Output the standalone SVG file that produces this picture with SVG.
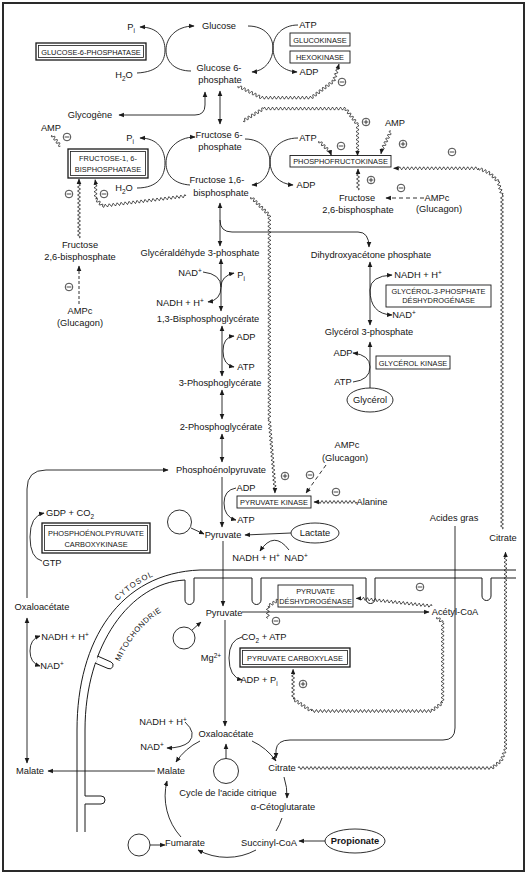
<svg xmlns="http://www.w3.org/2000/svg" width="527" height="879" viewBox="0 0 527 879">
<defs>
<style>
.t{font-family:"Liberation Sans",Arial,Helvetica,sans-serif;font-size:9.3px;fill:#141414;text-anchor:middle}
.bt{font-family:"Liberation Sans",Arial,Helvetica,sans-serif;font-size:7.4px;fill:#141414;text-anchor:middle}
.s{font-size:6.5px}
.c{fill:none;stroke:#1a1a1a;stroke-width:0.9}
.w{fill:none;stroke:#1a1a1a;stroke-width:0.8}
.ar{marker-end:url(#a)}
.as{marker-start:url(#a)}
.d{stroke-dasharray:4 3}
.bx{fill:#fff;stroke:#1a1a1a;stroke-width:0.9}
.bo{fill:#fff;stroke:#1a1a1a;stroke-width:1.3}
.bi{fill:none;stroke:#1a1a1a;stroke-width:0.8}
.mem{fill:none;stroke:#1a1a1a;stroke-width:1}
.el{fill:#fff;stroke:#1a1a1a;stroke-width:0.9}
</style>
<marker id="a" viewBox="0 0 10 10" refX="9" refY="5" markerWidth="5.5" markerHeight="5.5" markerUnits="userSpaceOnUse" orient="auto-start-reverse"><path d="M0,0.8L10,5L0,9.2z" fill="#1a1a1a"/></marker>
<g id="mi"><circle r="3.8" fill="#fff" stroke="#1a1a1a" stroke-width="0.8"/><path d="M-2.4,0H2.4" stroke="#1a1a1a" stroke-width="0.8"/></g>
<g id="pl"><circle r="3.8" fill="#fff" stroke="#1a1a1a" stroke-width="0.8"/><path d="M-2.4,0H2.4M0,-2.4V2.4" stroke="#1a1a1a" stroke-width="0.8"/></g>
<path id="pc" d="M74,730C74,638 118,569 200,566"/>
<path id="pm" d="M104,740C104,662 142,600 212,596"/>
</defs>
<rect x="0" y="0" width="527" height="879" fill="#fff"/>
<rect x="3" y="3" width="521" height="868" fill="none" stroke="#2a2a2a" stroke-width="2"/>

<g id="membranes">
<path class="mem" d="M516,570H200C120,573 77,640 77,730V832"/>
<path class="mem" d="M516,578H491V596A4.5,4.5 0 0 1 482,596V578H375V599A4.5,4.5 0 0 1 366,599V578H261V600A4.5,4.5 0 0 1 252,600V578H194V600A4.5,4.5 0 0 1 185,600V580C130,583 85,645 85,730V796H101A4,4 0 0 1 101,804H85V832"/>
<path d="M97,657.5L95.3,662.5" stroke="#fff" stroke-width="1.8"/>
<path class="mem" d="M97.5,656L111,662A3.5,3.5 0 0 1 108,668.5L95,663"/>
<text class="t" style="font-size:7.8px;letter-spacing:1.1px"><textPath href="#pc" startOffset="70%">CYTOSOL</textPath></text>
<text class="t" style="font-size:7.6px;letter-spacing:0.6px"><textPath href="#pm" startOffset="57%">MITOCHONDRIE</textPath></text>
</g>

<g id="connectors">
<path class="c as" d="M140,27C158,27 165,38 165,50C165,62 158,72 137,73"/>
<path class="c as" d="M194,26C176,26 166,38 166,50C166,62 175,71 191,71"/>
<path class="c ar" d="M248,26C265,26 273,37 273,48C273,60 265,71 252,72"/>
<path class="c ar" d="M298,25C282,25 273,36 273,48C273,60 281,71 297,72"/>
<path class="c as ar" d="M220,91V124"/>
<path class="c as ar" d="M205,92V105Q205,115 195,115H119"/>
<path class="c as" d="M140,138C158,138 165,150 165,163C165,176 158,188 137,188"/>
<path class="c as" d="M195,137C177,137 166,150 166,163C166,176 175,184 190,185"/>
<path class="c ar" d="M245,139C262,139 270,151 270,162C270,174 263,184 252,185"/>
<path class="c ar" d="M298,138C280,138 270,150 270,162C270,174 279,184 293,185"/>
<path class="c as ar" d="M220,203V246"/>
<path class="c ar" d="M220,220Q220,232 232,232H358Q369,232 369,247"/>
<path class="c d ar" d="M424,198H386"/>
<path class="c ar" d="M79,304V266" stroke-dasharray="3 2"/>
<path class="c as ar" d="M221,259V311"/>
<path class="c ar" d="M203,272Q221,274 221,287Q221,300 208,302"/>
<path class="c ar" d="M221,287Q221,276 234,273"/>
<path class="c as ar" d="M222,326V376"/>
<path class="c as ar" d="M234,336Q223,337 223,351Q223,365 234,367"/>
<path class="c as ar" d="M222,390V419"/>
<path class="c as ar" d="M222,434V462"/>
<path class="c as ar" d="M370,262V325"/>
<path class="c ar" d="M370,290Q370,276 392,275"/>
<path class="c ar" d="M370,290Q370,314 392,315"/>
<path class="c ar" d="M370,388V342"/>
<path class="c as" d="M353,353Q370,355 370,367Q370,380 353,382"/>
<path class="c ar" d="M27,598V489Q27,470 46,470H168"/>
<path class="c as" d="M44,513Q30,516 30,537Q30,558 42,561"/>
<path class="c ar" d="M222,477V527"/>
<path class="c ar" d="M236,488Q224,490 224,503Q224,517 236,520"/>
<path class="c d ar" d="M326,465L306,493"/>
<path class="c ar" d="M191,528L204,534"/>
<path class="c ar" d="M291,533L245,535"/>
<path class="c as" d="M260,551Q274,530 289,550"/>
<path class="c ar" d="M223,541V606"/>
<path class="c ar" d="M455,526V728Q455,740 443,740H290Q277,740 276,750V758"/>
<path class="c ar" d="M242,612H429"/>
<path class="c ar" d="M225,620V726"/>
<path class="c ar" d="M191,631L201,622"/>
<path class="c ar" d="M242,637Q229,640 229,658Q229,677 242,680"/>
<path class="c ar" d="M226,759V744"/>
<path class="c ar" d="M155,771H48"/>
<path class="c as ar" d="M27,618V763"/>
<path class="c as ar" d="M40,636Q30,639 30,651Q30,663 40,666"/>
<path class="c ar" d="M185,722Q197,733 189,742Q182,748 167,748"/>
<path class="c ar" d="M252,741A61,61 0 0 1 276,761"/>
<path class="c ar" d="M284,777A61,61 0 0 1 287,798"/>
<path class="c" d="M282,818A61,61 0 0 1 276,831"/>
<path class="c ar" d="M256,850A61,61 0 0 1 198,850"/>
<path class="c ar" d="M181,837A61,61 0 0 1 167,781"/>
<path class="c ar" d="M200,741A61,61 0 0 0 176,762"/>
<path class="c ar" d="M150,845H165"/>
<path class="c ar" d="M325,841H299"/>

<path class="w ar" d="M238,86q-0.45,3.1 1.8,0.9t1.8,0.9 1.8,0.9 1.8,0.9 1.8,0.9 1.8,0.9 1.8,0.9 1.8,0.9 1.8,0.9 1.8,0.9 1.8,0.9 1.8,0.9 1.8,0.9q1,-3 2,0t2,0 2,0 2,0 2,0 2,0 2,0 2,0 2,0 2,0 2,0 2,0 2,0 2,0 2,0 2,0 2,0 2,0 2,0 2,0 2,0 2,0 2,0 2,0 2,0q2.6,1.8 1.6,-1.2t1.6,-1.2 1.6,-1.2 1.6,-1.2 1.6,-1.2 1.6,-1.2 1.6,-1.2 1.6,-1.2 1.6,-1.2 1.6,-1.2 1.6,-1.2 1.6,-1.2 1.6,-1.2 1.6,-1.2q3.15,-0.05 0.6,-1.9t0.6,-1.9 0.6,-1.9 0.6,-1.9 0.6,-1.9 0.6,-1.9 0.6,-1.9l1,-3.5"/>
<path class="w ar" d="M243,121q2.4,2.06 1.71,-1.03t1.71,-1.03 1.71,-1.03 1.71,-1.03 1.71,-1.03 1.71,-1.03 1.71,-1.03 1.71,-1.03 1.71,-1.03 1.71,-1.03 1.71,-1.03 1.71,-1.03q1,-3 2,0t2,0 2,0 2,0 2,0 2,0 2,0 2,0 2,0 2,0 2,0 2,0 2,0 2,0 2,0 2,0 2,0 2,0 2,0 2,0 2,0 2,0 2,0 2,0 2,0 2,0 2,0 2,0 2,0 2,0 2,0 2,0 2,0 2,0 2,0 2,0 2,0 2,0 2,0 2,0 2,0q-1.8,2.6 1.2,1.6t1.2,1.6 1.2,1.6 1.2,1.6 1.2,1.6 1.2,1.6 1.2,1.6 1.2,1.6 1.2,1.6 1.2,1.6q3,1 0,2t0,2 0,2 0,2 0,2 0,2 0,2 0,2 0,2 0,2 0,2 0,2 0,2 0,2l0,3"/>
<path class="w ar" d="M319,141q-1.41,2.83 1.41,1.41t1.41,1.41 1.41,1.41 1.41,1.41 1.41,1.41 1.41,1.41 1.41,1.41 1.41,1.41l1,3"/>
<path class="w ar" d="M391,131q-3.13,-0.4 -0.86,1.8t-0.86,1.8 -0.86,1.8 -0.86,1.8 -0.86,1.8 -0.86,1.8 -0.86,1.8 -0.86,1.8 -0.86,1.8 -0.86,1.8 -0.86,1.8l-0.5,3"/>
<path class="w ar" d="M358,190q3,-1 0,-2t0,-2 0,-2 0,-2 0,-2 0,-2 0,-2 0,-2 0,-2l0,-3"/>
<path class="w ar" d="M502,529q3,-1 0,-2t0,-2 0,-2 0,-2 0,-2 0,-2 0,-2 0,-2 0,-2 0,-2 0,-2 0,-2 0,-2 0,-2 0,-2 0,-2 0,-2 0,-2 0,-2 0,-2 0,-2 0,-2 0,-2 0,-2 0,-2 0,-2 0,-2 0,-2 0,-2 0,-2 0,-2 0,-2 0,-2 0,-2 0,-2 0,-2 0,-2 0,-2 0,-2 0,-2 0,-2 0,-2 0,-2 0,-2 0,-2 0,-2 0,-2 0,-2 0,-2 0,-2 0,-2 0,-2 0,-2 0,-2 0,-2 0,-2 0,-2 0,-2 0,-2 0,-2 0,-2 0,-2 0,-2 0,-2 0,-2 0,-2 0,-2 0,-2 0,-2 0,-2 0,-2 0,-2 0,-2 0,-2 0,-2 0,-2 0,-2 0,-2 0,-2 0,-2 0,-2 0,-2 0,-2 0,-2 0,-2 0,-2 0,-2 0,-2 0,-2 0,-2 0,-2 0,-2 0,-2 0,-2 0,-2 0,-2 0,-2 0,-2 0,-2 0,-2 0,-2 0,-2 0,-2 0,-2 0,-2 0,-2 0,-2 0,-2 0,-2 0,-2 0,-2 0,-2 0,-2 0,-2 0,-2 0,-2 0,-2 0,-2 0,-2 0,-2 0,-2 0,-2 0,-2 0,-2 0,-2 0,-2 0,-2 0,-2 0,-2 0,-2 0,-2 0,-2 0,-2 0,-2 0,-2 0,-2 0,-2 0,-2 0,-2 0,-2 0,-2 0,-2 0,-2 0,-2 0,-2 0,-2 0,-2 0,-2 0,-2 0,-2 0,-2 0,-2 0,-2 0,-2 0,-2 0,-2 0,-2 0,-2 0,-2 0,-2 0,-2 0,-2 0,-2 0,-2 0,-2 0,-2 0,-2q2.6,-1.79 -0.55,-1.92t-0.55,-1.92 -0.55,-1.92 -0.55,-1.92 -0.55,-1.92 -0.55,-1.92 -0.55,-1.92q1.41,-2.83 -1.41,-1.41t-1.41,-1.41 -1.41,-1.41 -1.41,-1.41 -1.41,-1.41 -1.41,-1.41q0.28,-3.15 -1.83,-0.8t-1.83,-0.8 -1.83,-0.8 -1.83,-0.8 -1.83,-0.8 -1.83,-0.8q-1,3 -2,0t-2,0 -2,0 -2,0 -2,0 -2,0 -2,0 -2,0 -2,0 -2,0 -2,0 -2,0 -2,0 -2,0 -2,0 -2,0 -2,0 -2,0 -2,0 -2,0 -2,0 -2,0 -2,0 -2,0 -2,0 -2,0 -2,0 -2,0 -2,0 -2,0 -2,0 -2,0 -2,0 -2,0 -2,0 -2,0 -2,0 -2,0 -2,0 -2,0l-5,0"/>
<path class="w ar" d="M298,768q1,-3 2,0t2,0 2,0 2,0 2,0 2,0 2,0 2,0 2,0 2,0 2,0 2,0 2,0 2,0 2,0 2,0 2,0 2,0 2,0 2,0 2,0 2,0 2,0 2,0 2,0 2,0 2,0 2,0 2,0 2,0 2,0 2,0 2,0 2,0 2,0 2,0 2,0 2,0 2,0 2,0 2,0 2,0 2,0 2,0 2,0 2,0 2,0 2,0 2,0 2,0 2,0 2,0 2,0 2,0 2,0 2,0 2,0 2,0 2,0 2,0 2,0 2,0 2,0 2,0 2,0 2,0 2,0 2,0 2,0 2,0 2,0 2,0 2,0 2,0 2,0 2,0 2,0 2,0 2,0 2,0 2,0 2,0 2,0 2,0 2,0 2,0 2,0 2,0 2,0 2,0 2,0 2,0 2,0 2,0 2,0 2,0 2,0q2.65,1.72 1.56,-1.25t1.56,-1.25 1.56,-1.25 1.56,-1.25 1.56,-1.25 1.56,-1.25q3.17,0.09 0.69,-1.88t0.69,-1.88 0.69,-1.88 0.69,-1.88 0.69,-1.88 0.69,-1.88q3,-1 0,-2t0,-2 0,-2 0,-2 0,-2 0,-2 0,-2 0,-2 0,-2 0,-2 0,-2 0,-2 0,-2 0,-2 0,-2 0,-2 0,-2 0,-2 0,-2 0,-2 0,-2 0,-2 0,-2 0,-2 0,-2 0,-2 0,-2 0,-2 0,-2 0,-2 0,-2 0,-2 0,-2 0,-2 0,-2 0,-2 0,-2 0,-2 0,-2 0,-2 0,-2 0,-2 0,-2 0,-2 0,-2 0,-2 0,-2 0,-2 0,-2 0,-2 0,-2 0,-2 0,-2 0,-2 0,-2 0,-2 0,-2 0,-2 0,-2 0,-2 0,-2 0,-2 0,-2 0,-2 0,-2 0,-2 0,-2 0,-2 0,-2 0,-2 0,-2 0,-2 0,-2 0,-2 0,-2 0,-2 0,-2 0,-2 0,-2 0,-2 0,-2 0,-2 0,-2 0,-2 0,-2 0,-2 0,-2 0,-2 0,-2 0,-2 0,-2 0,-2 0,-2 0,-2 0,-2 0,-2 0,-2l0,-3"/>
<path class="w ar" d="M186,196q-1.34,-2.86 -1.99,0.24t-1.99,0.24 -1.99,0.24 -1.99,0.24 -1.99,0.24 -1.99,0.24 -1.99,0.24 -1.99,0.24 -1.99,0.24 -1.99,0.24 -1.99,0.24 -1.99,0.24 -1.99,0.24 -1.99,0.24 -1.99,0.24 -1.99,0.24 -1.99,0.24 -1.99,0.24 -1.99,0.24 -1.99,0.24 -1.99,0.24 -1.99,0.24 -1.99,0.24 -1.99,0.24 -1.99,0.24 -1.99,0.24 -1.99,0.24 -1.99,0.24 -1.99,0.24 -1.99,0.24 -1.99,0.24 -1.99,0.24 -1.99,0.24 -1.99,0.24 -1.99,0.24 -1.99,0.24 -1.99,0.24 -1.99,0.24 -1.99,0.24 -1.99,0.24 -1.99,0.24 -1.99,0.24q1.52,-2.78 -1.36,-1.47t-1.36,-1.47 -1.36,-1.47 -1.36,-1.47 -1.36,-1.47q3,-1 0,-2t0,-2 0,-2 0,-2 0,-2 0,-2 0,-2 0,-2l-0.5,-3"/>
<path class="w ar" d="M79,238q3,-1 0,-2t0,-2 0,-2 0,-2 0,-2 0,-2 0,-2 0,-2 0,-2 0,-2 0,-2 0,-2 0,-2 0,-2 0,-2 0,-2 0,-2 0,-2 0,-2 0,-2 0,-2 0,-2 0,-2 0,-2 0,-2 0,-2 0,-2 0,-2l0,-3"/>
<path class="w" d="M52,135q-1.8,2.6 1.2,1.6t1.2,1.6 1.2,1.6 1.2,1.6 1.2,1.6 1.2,1.6 1.2,1.6"/>
<path class="w ar" d="M251,197q-1.41,2.83 1.41,1.41t1.41,1.41 1.41,1.41 1.41,1.41 1.41,1.41 1.41,1.41 1.41,1.41 1.41,1.41 1.41,1.41 1.41,1.41 1.41,1.41 1.41,1.41 1.41,1.41q3,1 0,2t0,2 0,2 0,2 0,2 0,2 0,2 0,2 0,2 0,2 0,2 0,2 0,2 0,2 0,2 0,2 0,2 0,2 0,2 0,2 0,2 0,2 0,2 0,2 0,2 0,2 0,2 0,2 0,2 0,2 0,2 0,2 0,2 0,2 0,2 0,2 0,2 0,2 0,2 0,2 0,2 0,2 0,2 0,2 0,2 0,2 0,2 0,2 0,2 0,2 0,2 0,2 0,2 0,2 0,2 0,2 0,2 0,2 0,2 0,2 0,2 0,2 0,2 0,2 0,2 0,2 0,2 0,2 0,2 0,2 0,2 0,2 0,2 0,2 0,2 0,2 0,2 0,2 0,2 0,2 0,2 0,2 0,2 0,2 0,2 0,2 0,2 0,2 0,2 0,2 0,2 0,2 0,2 0,2 0,2 0,2 0,2 0,2 0,2 0,2 0,2 0,2q-2.91,1.24 0.16,1.99t0.16,1.99 0.16,1.99 0.16,1.99 0.16,1.99 0.16,1.99 0.16,1.99 0.16,1.99 0.16,1.99 0.16,1.99 0.16,1.99 0.16,1.99 0.16,1.99 0.16,1.99 0.16,1.99 0.16,1.99 0.16,1.99 0.16,1.99 0.16,1.99 0.16,1.99 0.16,1.99 0.16,1.99 0.16,1.99 0.16,1.99 0.16,1.99 0.16,1.99 0.16,1.99 0.16,1.99 0.16,1.99 0.16,1.99 0.16,1.99 0.16,1.99 0.16,1.99 0.16,1.99 0.16,1.99l0,4"/>
<path class="w ar" d="M357,502q-1,3 -2,0t-2,0 -2,0 -2,0 -2,0 -2,0 -2,0 -2,0 -2,0 -2,0 -2,0 -2,0 -2,0 -2,0 -2,0 -2,0 -2,0 -2,0 -2,0 -2,0l-3,0"/>
<path class="w ar" d="M432,606q-0.67,-3.09 -1.99,-0.21t-1.99,-0.21 -1.99,-0.21 -1.99,-0.21 -1.99,-0.21 -1.99,-0.21 -1.99,-0.21 -1.99,-0.21 -1.99,-0.21 -1.99,-0.21 -1.99,-0.21 -1.99,-0.21 -1.99,-0.21 -1.99,-0.21 -1.99,-0.21 -1.99,-0.21 -1.99,-0.21 -1.99,-0.21 -1.99,-0.21 -1.99,-0.21 -1.99,-0.21 -1.99,-0.21 -1.99,-0.21 -1.99,-0.21 -1.99,-0.21 -1.99,-0.21 -1.99,-0.21 -1.99,-0.21 -1.99,-0.21 -1.99,-0.21 -1.99,-0.21 -1.99,-0.21 -1.99,-0.21 -1.99,-0.21 -1.99,-0.21 -1.99,-0.21l-4,0"/>
<path class="w ar" d="M437,617q-1.41,2.83 1.41,1.41t1.41,1.41 1.41,1.41 1.41,1.41q3,1 0,2t0,2 0,2 0,2 0,2 0,2 0,2 0,2 0,2 0,2 0,2 0,2 0,2 0,2 0,2 0,2 0,2 0,2 0,2 0,2 0,2 0,2 0,2 0,2 0,2 0,2 0,2 0,2 0,2 0,2 0,2 0,2 0,2 0,2 0,2 0,2 0,2 0,2 0,2 0,2q-2.6,-1.8 -1.6,1.2t-1.6,1.2 -1.6,1.2 -1.6,1.2 -1.6,1.2 -1.6,1.2 -1.6,1.2q-1,3 -2,0t-2,0 -2,0 -2,0 -2,0 -2,0 -2,0 -2,0 -2,0 -2,0 -2,0 -2,0 -2,0 -2,0 -2,0 -2,0 -2,0 -2,0 -2,0 -2,0 -2,0 -2,0 -2,0 -2,0 -2,0 -2,0 -2,0 -2,0 -2,0 -2,0 -2,0 -2,0 -2,0 -2,0 -2,0 -2,0 -2,0 -2,0 -2,0 -2,0 -2,0 -2,0 -2,0 -2,0 -2,0 -2,0 -2,0 -2,0 -2,0 -2,0 -2,0 -2,0 -2,0 -2,0 -2,0 -2,0 -2,0 -2,0 -2,0 -2,0q0.82,-3.05 -1.67,-1.1t-1.67,-1.1 -1.67,-1.1 -1.67,-1.1 -1.67,-1.1 -1.67,-1.1 -1.67,-1.1 -1.67,-1.1 -1.67,-1.1 -1.67,-1.1 -1.67,-1.1q3,-1 0,-2t0,-2 0,-2 0,-2 0,-2 0,-2 0,-2 0,-2 0,-2 0,-2 0,-2 0,-2 0,-2l0,-3.5"/>
<path class="w" d="M278,600q-2.46,-1.98 -1.69,1.07t-1.69,1.07 -1.69,1.07 -1.69,1.07 -1.69,1.07 -1.69,1.07q3,1 0,2t0,2 0,2 0,2 0,2 0,2"/>
</g>

<g id="nodes">
<g id="n-pi1"><text class="t" x="131" y="30">P<tspan class="s" dy="2.5">i</tspan></text></g>
<g id="n-glucose"><text class="t" x="219" y="29">Glucose</text></g>
<g id="n-g6pase"><rect class="bo" x="36" y="43" width="110" height="17"/><rect class="bi" x="38.5" y="45.5" width="105" height="12"/><text class="bt" x="91" y="54.6">GLUCOSE-6-PHOSPHATASE</text></g>
<g id="n-h2o1"><text class="t" x="124" y="78">H<tspan class="s" dy="2.5">2</tspan><tspan dy="-2.5">O</tspan></text></g>
<g id="n-g6p"><text class="t" x="219" y="71">Glucose 6-</text><text class="t" x="220" y="83">phosphate</text></g>
<g id="n-atp1"><text class="t" x="308" y="28">ATP</text></g>
<g id="n-glucokinase"><rect class="bx" x="290" y="33" width="60" height="13"/><text class="bt" x="320" y="42.5">GLUCOKINASE</text></g>
<g id="n-hexokinase"><rect class="bx" x="290" y="51" width="60" height="12"/><text class="bt" x="320" y="60">HEXOKINASE</text></g>
<g id="n-adp1"><text class="t" x="309" y="75">ADP</text></g>
<g id="n-glycogene"><text class="t" x="90" y="118">Glycogène</text></g>
<g id="n-amp1"><text class="t" x="51" y="131">AMP</text></g>
<g id="n-pi2"><text class="t" x="130" y="141">P<tspan class="s" dy="2.5">i</tspan></text></g>
<g id="n-f6p"><text class="t" x="219" y="138">Fructose 6-</text><text class="t" x="220" y="150">phosphate</text></g>
<g id="n-atp2"><text class="t" x="308" y="141">ATP</text></g>
<g id="n-amp2"><text class="t" x="395" y="126">AMP</text></g>
<g id="n-fbpase"><rect class="bo" x="68" y="149" width="80" height="29"/><rect class="bi" x="70.5" y="151.5" width="75" height="24"/><text class="bt" x="108" y="161">FRUCTOSE-1, 6-</text><text class="bt" x="108" y="172">BISPHOSPHATASE</text></g>
<g id="n-pfk"><rect class="bx" x="290" y="155.5" width="101" height="11.5"/><text class="bt" x="340.5" y="164">PHOSPHOFRUCTOKINASE</text></g>
<g id="n-h2o2"><text class="t" x="124" y="191">H<tspan class="s" dy="2.5">2</tspan><tspan dy="-2.5">O</tspan></text></g>
<g id="n-f16bp"><text class="t" x="217" y="183">Fructose 1,6-</text><text class="t" x="221" y="196">bisphosphate</text></g>
<g id="n-adp2"><text class="t" x="306" y="188">ADP</text></g>
<g id="n-f26bp-r"><text class="t" x="357" y="201">Fructose</text><text class="t" x="358" y="213">2,6-bisphosphate</text></g>
<g id="n-ampc-r"><text class="t" x="437" y="201">AMPc</text><text class="t" x="439" y="211.5">(Glucagon)</text></g>
<g id="n-f26bp-l"><text class="t" x="80" y="248">Fructose</text><text class="t" x="80" y="260">2,6-bisphosphate</text></g>
<g id="n-ampc-l"><text class="t" x="80" y="314">AMPc</text><text class="t" x="80" y="326">(Glucagon)</text></g>
<g id="n-g3p"><text class="t" x="200" y="256">Glycéraldéhyde 3-phosphate</text></g>
<g id="n-dhap"><text class="t" x="371" y="258">Dihydroxyacétone phosphate</text></g>
<g id="n-nad1"><text class="t" x="190" y="276">NAD<tspan class="s" dy="-3.5">+</tspan></text></g>
<g id="n-pi3"><text class="t" x="241" y="278">P<tspan class="s" dy="2.5">i</tspan></text></g>
<g id="n-nadh1"><text class="t" x="180" y="306">NADH + H<tspan class="s" dy="-3.5">+</tspan></text></g>
<g id="n-nadh2"><text class="t" x="418" y="278">NADH + H<tspan class="s" dy="-3.5">+</tspan></text></g>
<g id="n-g3pdh"><rect class="bx" x="386" y="285" width="105" height="22"/><text class="bt" x="438.5" y="293.8">GLYCÉROL-3-PHOSPHATE</text><text class="bt" x="438.5" y="303.3">DÉSHYDROGÉNASE</text></g>
<g id="n-nad2"><text class="t" x="404" y="318">NAD<tspan class="s" dy="-3.5">+</tspan></text></g>
<g id="n-13bpg"><text class="t" x="208" y="322">1,3-Bisphosphoglycérate</text></g>
<g id="n-adp3"><text class="t" x="246" y="340">ADP</text></g>
<g id="n-atp3"><text class="t" x="246" y="370">ATP</text></g>
<g id="n-gly3p"><text class="t" x="369" y="335">Glycérol 3-phosphate</text></g>
<g id="n-adp4"><text class="t" x="343" y="356">ADP</text></g>
<g id="n-atp4"><text class="t" x="343" y="385">ATP</text></g>
<g id="n-glyk"><rect class="bx" x="376" y="356" width="74" height="13"/><text class="bt" x="413" y="365.5">GLYCÉROL KINASE</text></g>
<g id="n-glycerol"><ellipse class="el" cx="370" cy="400" rx="23" ry="12"/><text class="t" x="370" y="403">Glycérol</text></g>
<g id="n-3pg"><text class="t" x="220" y="386">3-Phosphoglycérate</text></g>
<g id="n-2pg"><text class="t" x="221" y="430">2-Phosphoglycérate</text></g>
<g id="n-ampc-pk"><text class="t" x="347" y="448">AMPc</text><text class="t" x="345" y="461">(Glucagon)</text></g>
<g id="n-pep"><text class="t" x="221" y="473">Phosphoénolpyruvate</text></g>
<g id="n-adp5"><text class="t" x="246" y="491">ADP</text></g>
<g id="n-pk"><rect class="bx" x="237" y="496" width="74" height="12"/><text class="bt" x="274" y="505">PYRUVATE KINASE</text></g>
<g id="n-atp5"><text class="t" x="246" y="523">ATP</text></g>
<g id="n-alanine"><text class="t" x="372" y="505">Alanine</text></g>
<g id="n-gdp"><text class="t" x="70" y="516">GDP + CO<tspan class="s" dy="2.5">2</tspan></text></g>
<g id="n-pepck"><rect class="bo" x="42" y="523" width="108" height="30"/><rect class="bi" x="44.5" y="525.5" width="103" height="25"/><text class="bt" x="96" y="535.5">PHOSPHOÉNOLPYRUVATE</text><text class="bt" x="96" y="546.5">CARBOXYKINASE</text></g>
<g id="n-gtp"><text class="t" x="52" y="566">GTP</text></g>
<g id="n-pyr-c"><text class="t" x="223" y="538">Pyruvate</text></g>
<g id="n-circ1"><circle class="el" cx="179.5" cy="522" r="12"/></g>
<g id="n-lactate"><ellipse class="el" cx="315" cy="533" rx="24" ry="10"/><text class="t" x="315" y="536">Lactate</text></g>
<g id="n-nadh3"><text class="t" x="256" y="561">NADH + H<tspan class="s" dy="-3.5">+</tspan></text></g>
<g id="n-nad3"><text class="t" x="296" y="561">NAD<tspan class="s" dy="-3.5">+</tspan></text></g>
<g id="n-acgras"><text class="t" x="454" y="521">Acides gras</text></g>
<g id="n-citrate-c"><text class="t" x="503" y="541">Citrate</text></g>
<g id="n-oaa-c"><text class="t" x="42" y="610">Oxaloacétate</text></g>
<g id="n-nadh4"><text class="t" x="65" y="640">NADH + H<tspan class="s" dy="-3.5">+</tspan></text></g>
<g id="n-nad4"><text class="t" x="52" y="669">NAD<tspan class="s" dy="-3.5">+</tspan></text></g>
<g id="n-pdh"><rect class="bx" x="278" y="585" width="75" height="22"/><text class="bt" x="315.5" y="593.5">PYRUVATE</text><text class="bt" x="315.5" y="603.5">DÉSHYDROGÉNASE</text></g>
<g id="n-pyr-m"><text class="t" x="224" y="616">Pyruvate</text></g>
<g id="n-acetylcoa"><text class="t" x="455" y="615">Acétyl-CoA</text></g>
<g id="n-circ2"><circle class="el" cx="184" cy="638" r="11"/></g>
<g id="n-mg"><text class="t" x="211" y="661">Mg<tspan class="s" dy="-3.5">2+</tspan></text></g>
<g id="n-co2atp"><text class="t" x="264" y="640">CO<tspan class="s" dy="2.5">2</tspan><tspan dy="-2.5"> + ATP</tspan></text></g>
<g id="n-pc"><rect class="bo" x="240" y="648" width="110" height="19"/><rect class="bi" x="242.5" y="650.5" width="105" height="14"/><text class="bt" x="295" y="660.5">PYRUVATE CARBOXYLASE</text></g>
<g id="n-adppi"><text class="t" x="259" y="683">ADP + P<tspan class="s" dy="2.5">i</tspan></text></g>
<g id="n-nadh5"><text class="t" x="163" y="725">NADH + H<tspan class="s" dy="-3.5">+</tspan></text></g>
<g id="n-nad5"><text class="t" x="152" y="750">NAD<tspan class="s" dy="-3.5">+</tspan></text></g>
<g id="n-oaa-m"><text class="t" x="226" y="737">Oxaloacétate</text></g>
<g id="n-circ3"><circle class="el" cx="226" cy="771" r="12.5"/></g>
<g id="n-malate-c"><text class="t" x="30" y="774">Malate</text></g>
<g id="n-malate-m"><text class="t" x="171" y="774">Malate</text></g>
<g id="n-citrate-m"><text class="t" x="282" y="771">Citrate</text></g>
<g id="n-cycle"><text class="t" x="228" y="796">Cycle de l'acide citrique</text></g>
<g id="n-akg"><text class="t" x="283" y="810">α-Cétoglutarate</text></g>
<g id="n-succoa"><text class="t" x="269" y="846">Succinyl-CoA</text></g>
<g id="n-fumarate"><text class="t" x="185" y="846">Fumarate</text></g>
<g id="n-circ4"><circle class="el" cx="139" cy="845" r="11"/></g>
<g id="n-propionate"><ellipse class="el" cx="355" cy="841" rx="30" ry="12"/><text class="t" x="355" y="844" font-weight="bold">Propionate</text></g>
</g>

<g id="signs">
<use href="#mi" x="342" y="82"/>
<use href="#mi" x="67" y="137"/>
<use href="#pl" x="366" y="122"/>
<use href="#mi" x="341" y="146"/>
<use href="#pl" x="403" y="144"/>
<use href="#mi" x="452" y="152"/>
<use href="#pl" x="371" y="180"/>
<use href="#mi" x="401" y="188"/>
<use href="#mi" x="69" y="194"/>
<use href="#mi" x="104" y="194"/>
<use href="#mi" x="69" y="287"/>
<use href="#pl" x="285" y="476"/>
<use href="#mi" x="310" y="475"/>
<use href="#mi" x="336" y="492"/>
<use href="#mi" x="420" y="587"/>
<use href="#mi" x="276" y="621"/>
<use href="#pl" x="303" y="684"/>
</g>
</svg>
